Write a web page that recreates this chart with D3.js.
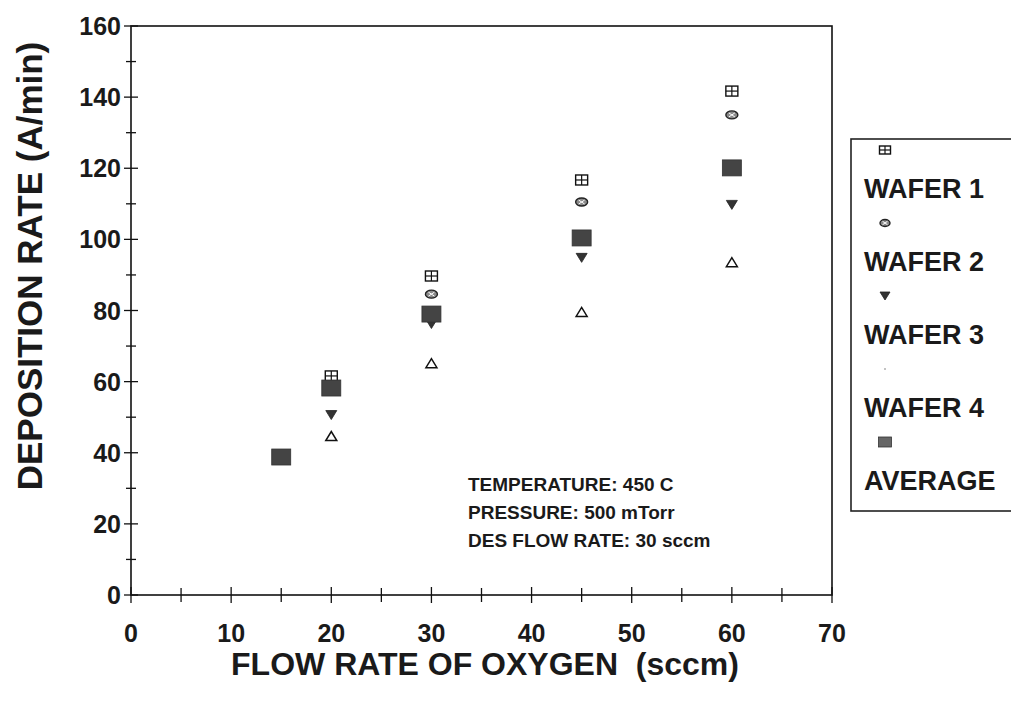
<!DOCTYPE html>
<html>
<head>
<meta charset="utf-8">
<script src="https://cdn.jsdelivr.net/npm/d3@7"></script>
<style>
  html, body { margin: 0; padding: 0; background: #fff; }
  svg { display: block; }
  text { font-family: "Liberation Sans", Arial, sans-serif; font-weight: bold; fill: #1a1a1a; white-space: pre; }
</style>
</head>
<body>
<script>
// ---- data ----
const flowRates = [15, 20, 30, 45, 60];
const wafer1 = [38.8, 61.6, 89.7, 116.7, 141.7];
const wafer2 = [38.8, 58.5, 84.6, 110.5, 135.0];
const wafer3 = [38.8, 50.6, 76.2, 94.8, 109.7];
const wafer4 = [38.8, 44.7, 65.2, 79.6, 93.6];
const average = [38.8, 58.2, 79.0, 100.4, 120.1];
const seriesNames = ["WAFER 1", "WAFER 2", "WAFER 3", "WAFER 4", "AVERAGE"];
const xTicks = [0, 10, 20, 30, 40, 50, 60, 70];
const xMinorTicks = [5, 15, 25, 35, 45, 55, 65];
const yTicks = [0, 20, 40, 60, 80, 100, 120, 140, 160];
const yMinorTicks = [10, 30, 50, 70, 90, 110, 130, 150];
const notes = ["TEMPERATURE: 450 C", "PRESSURE: 500 mTorr", "DES FLOW RATE: 30 sccm"];
const xTitle = "FLOW RATE OF OXYGEN  (sccm)";
const yTitle = "DEPOSITION RATE (A/min)";

const W = 1011, H = 703;
const svg = d3.select("body").append("svg").attr("width", W).attr("height", H);

const x = d3.scaleLinear().domain([0, 70]).range([131, 832]);
const y = d3.scaleLinear().domain([0, 160]).range([595, 26]);

// plot frame
svg.append("rect").attr("x", x(0)).attr("y", y(160))
  .attr("width", x(70) - x(0)).attr("height", y(0) - y(160))
  .attr("fill", "none").attr("stroke", "#111").attr("stroke-width", 1.6);

// axes ticks (crossing)
const g = svg.append("g").attr("stroke", "#111").attr("stroke-width", 1.3);
g.selectAll(".xt").data(xTicks).join("line")
  .attr("x1", d => x(d)).attr("x2", d => x(d)).attr("y1", y(0) - 8).attr("y2", y(0) + 8);
g.selectAll(".xm").data(xMinorTicks).join("line")
  .attr("x1", d => x(d)).attr("x2", d => x(d)).attr("y1", y(0) - 7).attr("y2", y(0) + 7);
g.selectAll(".yt").data(yTicks).join("line")
  .attr("x1", x(0) - 7).attr("x2", x(0) + 7).attr("y1", d => y(d)).attr("y2", d => y(d));
g.selectAll(".ym").data(yMinorTicks).join("line")
  .attr("x1", x(0) - 5).attr("x2", x(0) + 5).attr("y1", d => y(d)).attr("y2", d => y(d));

// tick labels
svg.selectAll(".xl").data(xTicks).join("text")
  .attr("x", d => x(d)).attr("y", 642).attr("text-anchor", "middle")
  .attr("font-size", 25).text(d => d);
svg.selectAll(".yl").data(yTicks).join("text")
  .attr("x", 121).attr("y", d => y(d) + 9).attr("text-anchor", "end")
  .attr("font-size", 25).text(d => d);

// axis titles
svg.append("text").attr("x", 485).attr("y", 664).attr("dy", "0.35em")
  .attr("text-anchor", "middle").attr("font-size", 32).text(xTitle);
svg.append("text").attr("transform", "translate(30,266) rotate(-90)")
  .attr("dy", "0.35em").attr("text-anchor", "middle").attr("font-size", 35).text(yTitle);

// notes
svg.selectAll(".note").data(notes).join("text")
  .attr("x", 468).attr("y", (d, i) => 491 + i * 28)
  .attr("font-size", 19).text(d => d);

// marker drawers
function drawW1(sel, w, h) {
  sel.append("rect").attr("x", -w / 2).attr("y", -h / 2).attr("width", w).attr("height", h)
    .attr("fill", "#fff").attr("stroke", "#111").attr("stroke-width", 1.4);
  sel.append("line").attr("x1", -w / 2).attr("x2", w / 2).attr("y1", 0).attr("y2", 0)
    .attr("stroke", "#111").attr("stroke-width", 1.2);
  sel.append("line").attr("x1", 0).attr("x2", 0).attr("y1", -h / 2).attr("y2", h / 2)
    .attr("stroke", "#111").attr("stroke-width", 1.2);
}
function drawW2(sel, w, h) {
  sel.append("ellipse").attr("rx", w / 2).attr("ry", h / 2)
    .attr("fill", "#8a8a8a").attr("stroke", "#222").attr("stroke-width", 1.4);
  sel.append("path").attr("d", `M${-w / 4},${-h / 4}L${w / 4},${h / 4}M${-w / 4},${h / 4}L${w / 4},${-h / 4}`)
    .attr("stroke", "#fff").attr("stroke-width", 1);
}
function drawW3(sel, w, h) {
  sel.append("path").attr("d", `M${-w / 2},${-h / 2}L${w / 2},${-h / 2}L0,${h / 2}Z`)
    .attr("fill", "#333").attr("stroke", "#222").attr("stroke-width", 0.8);
}
function drawW4(sel, w, h) {
  sel.append("path").attr("d", `M${-w / 2},${h / 2}L${w / 2},${h / 2}L0,${-h / 2}Z`)
    .attr("fill", "#fff").attr("stroke", "#111").attr("stroke-width", 1.5);
}
function drawAvg(sel, w, h, fill) {
  sel.append("rect").attr("x", -w / 2).attr("y", -h / 2).attr("width", w).attr("height", h)
    .attr("fill", fill).attr("stroke", "#333").attr("stroke-width", 0.8);
}

const series = [
  { vals: wafer1, draw: s => drawW1(s, 12, 10) },
  { vals: wafer2, draw: s => drawW2(s, 12, 8) },
  { vals: wafer3, draw: s => drawW3(s, 11, 9) },
  { vals: wafer4, draw: s => drawW4(s, 11, 9) },
  { vals: average, draw: s => drawAvg(s, 19, 16, "#444") }
];
series.forEach(sr => {
  svg.append("g").selectAll("g").data(flowRates.map((f, i) => [f, sr.vals[i]])).join("g")
    .attr("transform", d => `translate(${x(d[0])},${y(d[1])})`)
    .each(function () { sr.draw(d3.select(this)); });
});

// legend
const lg = svg.append("g");
lg.append("rect").attr("x", 851).attr("y", 139).attr("width", 170).attr("height", 372)
  .attr("fill", "#fff").attr("stroke", "#222").attr("stroke-width", 1.6);
const legendMarkers = [
  s => drawW1(s, 11, 8),
  s => drawW2(s, 10, 7),
  s => drawW3(s, 10, 8),
  s => s.append("circle").attr("r", 0.8).attr("fill", "#777"),
  s => drawAvg(s, 13, 10, "#666")
];
seriesNames.forEach((name, i) => {
  const my = 150 + i * 73;
  const mg = lg.append("g").attr("transform", `translate(885,${my})`);
  legendMarkers[i](mg);
  lg.append("text").attr("x", 864).attr("y", my + 48).attr("font-size", 27).text(name);
});
</script>
</body>
</html>
